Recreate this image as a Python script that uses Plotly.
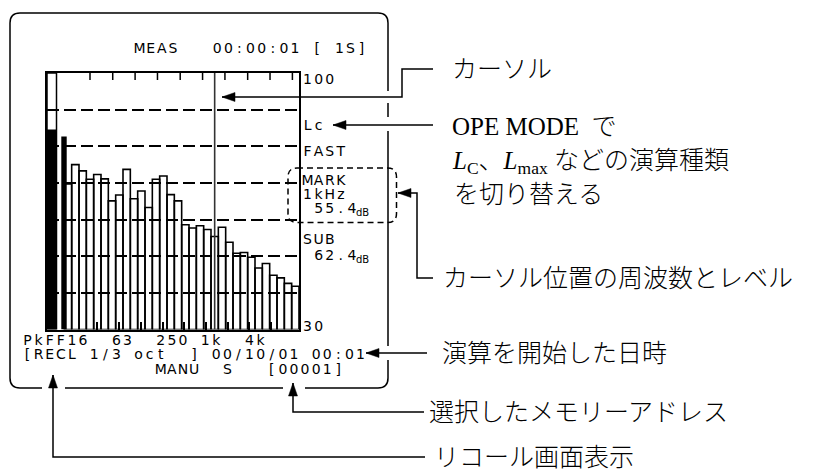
import plotly.graph_objects as go

# 1/3 オクターブバンド (10 Hz - 12.5 kHz) と各バンドのレベル [dB]
bands = ["10", "12.5", "16", "20", "25", "31.5", "40", "50", "63", "80",
         "100", "125", "160", "200", "250", "315", "400", "500", "630", "800",
         "1k", "1.25k", "1.6k", "2k", "2.5k", "3.15k", "4k", "5k", "6.3k", "8k",
         "10k", "12.5k"]
levels = [69.7, 75.0, 73.3, 71.0, 72.3, 71.1, 65.1, 66.7, 73.7, 65.7,
          67.8, 63.3, 71.0, 71.9, 66.8, 65.1, 58.6, 57.7, 58.3, 57.3,
          55.4, 57.9, 53.8, 50.8, 51.0, 49.7, 46.8, 48.0, 44.8, 44.1,
          42.6, 41.8]
pk_level = 84.6
ff_level = 82.7
cursor_band = "1k"
y_min, y_max = 30, 100
grid_levels = [40, 50, 60, 70, 80, 90]
bottom_ticks = [3.95, 6.95, 9.95, 12.9, 15.85, 18.8, 21.75, 24.7, 27.65]
top_ticks = [3.0, 6.1, 9.15, 12.2, 15.3, 18.35, 21.4, 24.5, 27.55, 30.6]

# 画面表示の文字 (text, cell start x, y)
lcd_lines = [
    ("MEAS   00:00:01 [ 1S]", 134, 49),
    ("100", 302, 80),
    ("Lc", 302, 126),
    ("FAST", 302, 152),
    ("MARK", 302, 181),
    ("1kHz", 302, 195),
    (" 55.4", 302, 209),
    ("SUB", 302, 240),
    (" 62.4", 302, 256),
    ("30", 302, 327),
    ("PkFF16  63  250 1k  4k", 22, 341),
    ("[RECL 1/3 oct  ] 00/10/01 00:01", 22, 355),
    ("            MANU  S   [00001]", 22, 370),
]
unit_labels = [("dB", 354, 212), ("dB", 354, 259)]

labels = [
    ("カーソル", 450, 69),
    ("OPE MODE\u00a0\u00a0で", 450, 126),
    ("<i>L</i><sub>C</sub>、<i>L</i><sub>max</sub>\u00a0などの演算種類", 450, 162),
    ("を切り替える", 452, 194),
    ("カーソル位置の周波数とレベル", 441, 278),
    ("演算を開始した日時", 440, 353),
    ("選択したメモリーアドレス", 427, 412),
    ("リコール画面表示", 432, 457),
]

# 引き出し線 (先頭が矢印の先端)
callouts = [
    ([(222, 97), (402, 97), (402, 69), (433, 69)], "left"),
    ([(333, 125), (433, 125)], "left"),
    ([(398, 193), (417, 193), (417, 278), (433, 278)], "left"),
    ([(366, 353), (427, 353)], "left"),
    ([(293, 383), (293, 412), (424, 412)], "up"),
    ([(53, 375), (53, 457), (425, 457)], "up"),
]

W, H = 816, 472
PL, PR, PT, PB = 47, 299, 73, 329.5
PITCH = 11.1
x0_center = 68.0
band_px = (PR - x0_center) / 31.5
x_left = -(x0_center - PL) / band_px

fig = go.Figure()

idx = list(range(len(bands)))
fig.add_trace(go.Bar(
    x=idx, y=[v - y_min for v in levels], base=y_min, width=1.0,
    hovertext=bands,
    marker=dict(color="rgba(0,0,0,0)", line=dict(color="black", width=1.6)),
))

# Pk の枠と Pk / FF の黒バー
pk_x, pk_w = x_left + 0.648, 1.296
fig.add_trace(go.Bar(
    x=[pk_x], y=[y_max - y_min], base=y_min, width=pk_w,
    marker=dict(color="rgba(0,0,0,0)", line=dict(color="black", width=1.5)),
))
fig.add_trace(go.Bar(
    x=[pk_x, -0.545], y=[pk_level - y_min, ff_level - y_min], base=y_min,
    width=[pk_w, 0.737],
    marker=dict(color="black", line=dict(color="black", width=0)),
))

# カーソル
ci = bands.index(cursor_band)
fig.add_trace(go.Scatter(
    x=[ci, ci], y=[y_min, y_max], mode="lines",
    line=dict(color="#333", width=1.6), hoverinfo="skip",
))

# 上側の目盛
tick_db = 7 / ((PB - PT) / (y_max - y_min))
tx, ty = [], []
for t in top_ticks:
    tx += [t, t, None]
    ty += [y_max, y_max - tick_db, None]
fig.add_trace(go.Scatter(x=tx, y=ty, mode="lines",
                         line=dict(color="black", width=1.5), hoverinfo="skip"))

# 画面の文字 (等幅の升目に 1 文字ずつ)
cx, cy, ct = [], [], []
for text, xs, yc in lcd_lines:
    for i, ch in enumerate(text):
        if ch == " ":
            continue
        cx.append(xs + (i + 0.5) * PITCH)
        cy.append(yc)
        ct.append(ch)
fig.add_trace(go.Scatter(
    x=cx, y=cy, text=ct, mode="text", xaxis="x2", yaxis="y2",
    textposition="middle center",
    textfont=dict(family="DejaVu Sans", size=14, color="black"),
    hoverinfo="skip",
))

shapes = []
# 外枠 (角丸、引き出し線の所は切れている)
frame = ("M 42 388 L 20 388 Q 10 388 10 378 L 10 23 Q 10 13 20 13 "
         "L 378 13 Q 388 13 388 23 L 388 91 M 388 103 L 388 117 "
         "M 388 131 L 388 346 M 388 360 L 388 378 Q 388 388 378 388 "
         "L 305 388 M 283 388 L 65 388")
shapes.append(dict(type="path", path=frame, xref="x2", yref="y2",
                   line=dict(color="black", width=1.5)))

# MARK 部分の点線枠
bx0, by0, bx1, by1, r = 288, 168, 396.5, 222.5, 9
box = (f"M {bx0+r} {by0} L {bx1-r} {by0} Q {bx1} {by0} {bx1} {by0+r} "
       f"L {bx1} {by1-r} Q {bx1} {by1} {bx1-r} {by1} L {bx0+r} {by1} "
       f"Q {bx0} {by1} {bx0} {by1-r} L {bx0} {by0+r} Q {bx0} {by0} {bx0+r} {by0} Z")
shapes.append(dict(type="path", path=box, xref="x2", yref="y2",
                   line=dict(color="black", width=1.5, dash="6px,4px")))

for pts, d in callouts:
    path = "M " + " L ".join(f"{x} {y}" for x, y in pts)
    shapes.append(dict(type="path", path=path, xref="x2", yref="y2",
                       line=dict(color="black", width=1.5)))
    tx_, ty_ = pts[0]
    if d == "left":
        tri = f"M {tx_} {ty_} L {tx_+13} {ty_-4.5} L {tx_+13} {ty_+4.5} Z"
    else:
        tri = f"M {tx_} {ty_} L {tx_-4.5} {ty_+13} L {tx_+4.5} {ty_+13} Z"
    shapes.append(dict(type="path", path=tri, xref="x2", yref="y2",
                       fillcolor="black", line=dict(color="black", width=0.5)))

annotations = []
for text, x, y in labels:
    annotations.append(dict(
        text=text, x=x, y=y, xref="x2", yref="y2", showarrow=False,
        xanchor="left", yanchor="middle",
        font=dict(family="Liberation Serif, Noto Sans CJK JP", size=25,
                  color="black", weight=300),
    ))
for text, x, y in unit_labels:
    annotations.append(dict(
        text=text, x=x, y=y, xref="x2", yref="y2", showarrow=False,
        xanchor="left", yanchor="middle",
        font=dict(family="DejaVu Sans", size=10, color="black"),
    ))

fig.update_layout(
    width=W, height=H, autosize=False,
    margin=dict(l=0, r=0, t=0, b=0),
    paper_bgcolor="white", plot_bgcolor="rgba(0,0,0,0)",
    showlegend=False, barmode="overlay",
    xaxis=dict(domain=[PL / W, PR / W], range=[x_left, 31.5],
               showgrid=False, zeroline=False, showticklabels=False,
               showline=True, mirror=True, linecolor="black", linewidth=1.5,
               ticks="inside", tickvals=bottom_ticks, ticklen=8,
               tickwidth=1.5, tickcolor="black"),
    yaxis=dict(domain=[1 - PB / H, 1 - PT / H], range=[y_min, y_max],
               showgrid=True, gridcolor="black", gridwidth=1.5,
               griddash="12px,5px", tickvals=grid_levels,
               showticklabels=False, zeroline=False,
               showline=True, mirror=True, linecolor="black", linewidth=1.5),
    xaxis2=dict(domain=[0, 1], range=[0, W], visible=False, anchor="y2"),
    yaxis2=dict(domain=[0, 1], range=[H, 0], visible=False, anchor="x2"),
    shapes=shapes, annotations=annotations,
)

# ページの余白をなくして図を左上に合わせる
fig.write_html("out.html", config={"displayModeBar": False},
               post_script="document.body.style.margin='0';")
